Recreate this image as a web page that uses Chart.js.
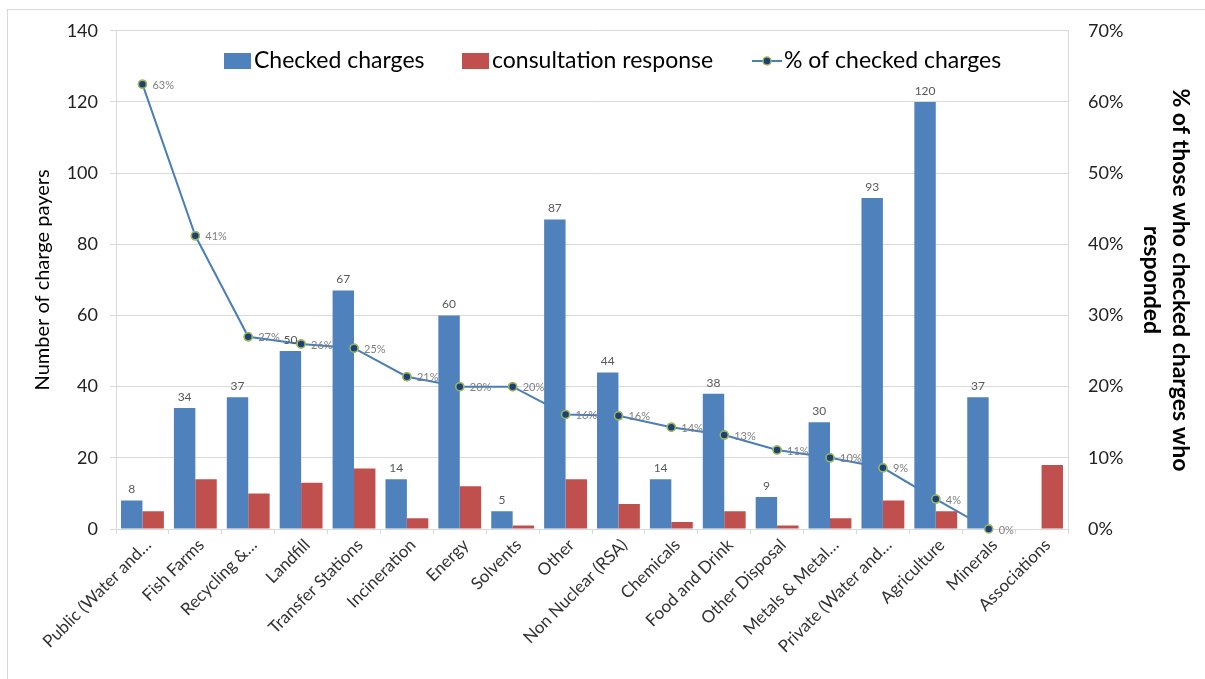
<!DOCTYPE html>
<html>
<head>
<meta charset="utf-8">
<script src="https://cdn.jsdelivr.net/npm/chart.js@4.4.0/dist/chart.umd.min.js"></script>
<style>
  body { margin: 0; background: #fff; }
  #wrap { position: relative; width: 1205px; height: 679px; }
  #frame { position: absolute; left: 7px; top: 9px; width: 1205px; height: 680px; border: 1px solid #d9d9d9; box-sizing: border-box; }
  canvas { position: absolute; left: 0; top: 0; }
</style>
</head>
<body>
<div id="wrap">
  <div id="frame"></div>
  <canvas id="grafico" width="1205" height="679"></canvas>
</div>
<script>
var categorias = ['Public (Water and\u2026', 'Fish Farms', 'Recycling &\u2026', 'Landfill', 'Transfer Stations',
  'Incineration', 'Energy', 'Solvents', 'Other', 'Non Nuclear (RSA)', 'Chemicals', 'Food and Drink',
  'Other Disposal', 'Metals & Metal\u2026', 'Private (Water and\u2026', 'Agriculture', 'Minerals', 'Associations'];
var checked = [8, 34, 37, 50, 67, 14, 60, 5, 87, 44, 14, 38, 9, 30, 93, 120, 37, null];
var resposta = [5, 14, 10, 13, 17, 3, 12, 1, 14, 7, 2, 5, 1, 3, 8, 5, 0, 18];
var percentual = [62.5, 41.2, 27.0, 26.0, 25.4, 21.4, 20.0, 20.0, 16.1, 15.9, 14.3, 13.2, 11.1, 10.0, 8.6, 4.2, 0, null];
var ticks_esq = [0, 20, 40, 60, 80, 100, 120, 140];
var ticks_dir = [0, 10, 20, 30, 40, 50, 60, 70];

var azul = '#4F81BD';
var vermelho = '#C0504D';
var linha = '#4A7EBB';
var fonte = 'Lato, "Open Sans", sans-serif';

// value labels + points over the bars + legend inside the plot
var rotulos = {
  id: 'rotulos',
  afterDatasetsDraw: function(chart) {
    var ctx = chart.ctx;
    ctx.save();
    var m0 = chart.getDatasetMeta(0);
    ctx.font = '12px ' + fonte;
    ctx.fillStyle = '#595959';
    ctx.textAlign = 'center';
    ctx.textBaseline = 'bottom';
    m0.data.forEach(function(bar, i) {
      if (checked[i] != null) ctx.fillText(checked[i], bar.x, bar.y - 5);
    });
    var m2 = chart.getDatasetMeta(2);
    m2.data.forEach(function(p) { if (!p.skip) p.draw(ctx, chart.chartArea); });
    ctx.font = '11px ' + fonte;
    ctx.fillStyle = '#7f7f7f';
    ctx.textAlign = 'left';
    ctx.textBaseline = 'middle';
    m2.data.forEach(function(p, i) {
      if (percentual[i] != null) ctx.fillText(Math.round(percentual[i]) + '%', p.x + 10, p.y + 1);
    });

    // legend
    var y = 61;
    ctx.font = '23px ' + fonte;
    ctx.textBaseline = 'middle';
    ctx.fillStyle = azul; ctx.fillRect(224, y - 8, 27, 16);
    ctx.fillStyle = '#000'; ctx.fillText('Checked charges', 254, y);
    ctx.fillStyle = vermelho; ctx.fillRect(462, y - 8, 27, 16);
    ctx.fillStyle = '#000'; ctx.fillText('consultation response', 492, y);
    ctx.strokeStyle = linha; ctx.lineWidth = 2;
    ctx.beginPath(); ctx.moveTo(752, y); ctx.lineTo(782, y); ctx.stroke();
    ctx.beginPath(); ctx.arc(767, y, 4, 0, Math.PI * 2);
    ctx.fillStyle = '#1F3F77'; ctx.fill();
    ctx.strokeStyle = '#9BBB59'; ctx.lineWidth = 1.5; ctx.stroke();
    ctx.fillStyle = '#000'; ctx.fillText('% of checked charges', 784, y);
    ctx.restore();
  }
};

new Chart(document.getElementById('grafico').getContext('2d'), {
  type: 'bar',
  data: {
    labels: categorias,
    datasets: [
      { label: 'Checked charges', data: checked, backgroundColor: azul, yAxisID: 'y',
        categoryPercentage: 0.81, barPercentage: 1, order: 1 },
      { label: 'consultation response', data: resposta, backgroundColor: vermelho, yAxisID: 'y',
        categoryPercentage: 0.81, barPercentage: 1, order: 1 },
      { type: 'line', label: '% of checked charges', data: percentual, yAxisID: 'y1',
        borderColor: linha, borderWidth: 2, pointRadius: 4, pointBorderWidth: 1.5,
        pointBackgroundColor: '#1F3F77', pointBorderColor: '#9BBB59', order: 2, spanGaps: false }
    ]
  },
  options: {
    responsive: false,
    animation: false,
    layout: { padding: { left: 8, top: 24, right: 0, bottom: 0 } },
    plugins: { legend: { display: false }, tooltip: { enabled: false } },
    scales: {
      x: {
        grid: { drawOnChartArea: false, offset: true, tickLength: 5, color: '#d9d9d9' },
        border: { color: '#d9d9d9' },
        ticks: { color: '#333', font: { size: 17, family: fonte }, maxRotation: 45, minRotation: 45, padding: 1, labelOffset: 6, autoSkip: false },
        afterFit: function(s) { s.height = 150; }
      },
      y: {
        position: 'left', min: 0, max: 140,
        afterBuildTicks: function(s) { s.ticks = ticks_esq.map(function(v) { return { value: v }; }); },
        grid: { color: '#d9d9d9', tickLength: 6 },
        border: { color: '#d9d9d9' },
        ticks: { color: '#222', font: { size: 18, family: fonte }, padding: 12 },
        title: { display: true, text: 'Number of charge payers', color: '#000', font: { size: 20, family: fonte }, padding: { top: 23, bottom: 0 } },
        afterFit: function(s) { s.width = 108; }
      },
      y1: {
        position: 'right', min: 0, max: 70,
        afterBuildTicks: function(s) { s.ticks = ticks_dir.map(function(v) { return { value: v }; }); },
        grid: { drawOnChartArea: false, drawTicks: false },
        border: { color: '#d9d9d9' },
        ticks: { color: '#222', font: { size: 18, family: fonte }, padding: 20, callback: function(v) { return v + '%'; } },
        title: { display: true, text: ['% of those who checked charges who', 'responded'], color: '#000',
          font: { size: 23, weight: 'bold', family: fonte, lineHeight: 1.25 }, padding: { top: 10, bottom: 0 } },
        afterFit: function(s) { s.width = 137; }
      }
    }
  },
  plugins: [rotulos]
});
</script>
</body>
</html>
